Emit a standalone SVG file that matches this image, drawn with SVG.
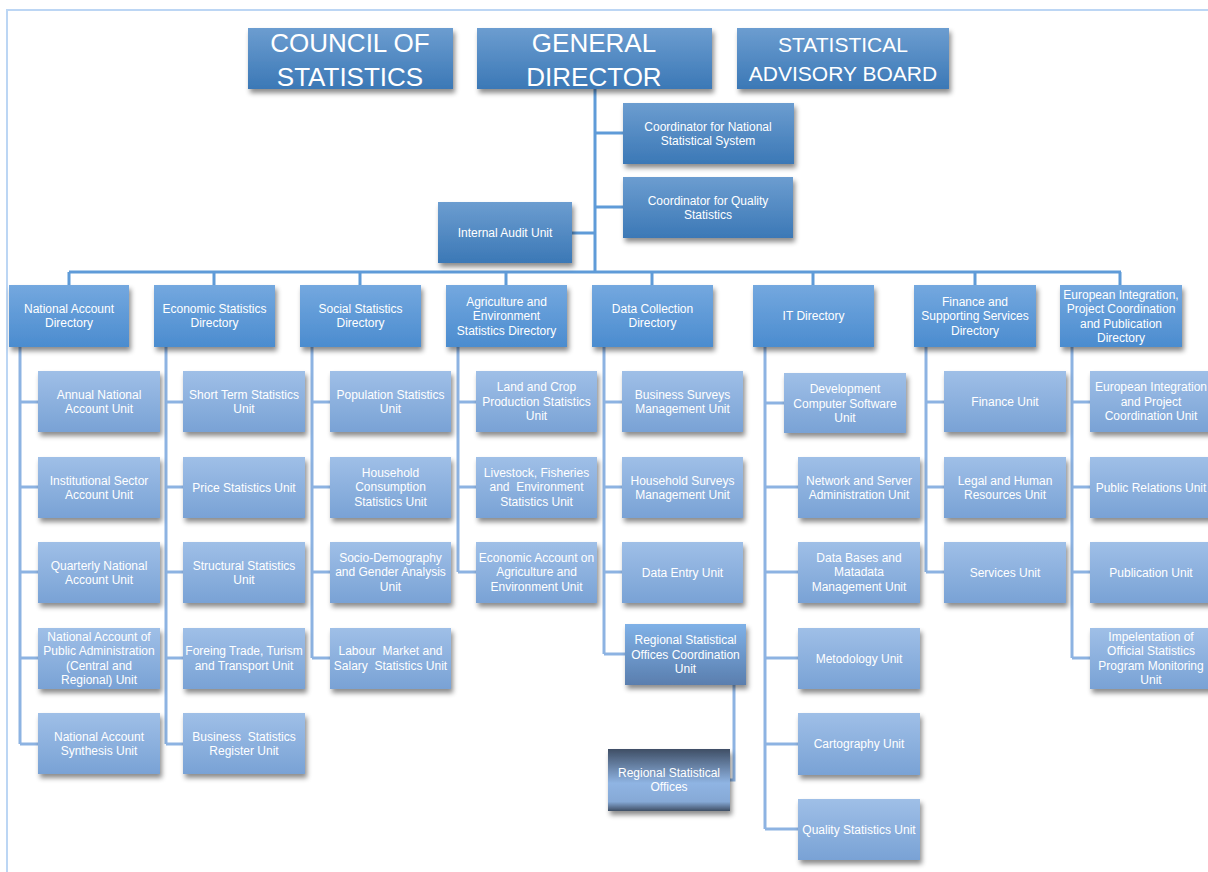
<svg xmlns="http://www.w3.org/2000/svg" width="1208" height="872" viewBox="0 0 1208 872">
<defs>
<linearGradient id="gTop" x1="0" y1="0" x2="0" y2="1"><stop offset="0" stop-color="#6c9dd0"/><stop offset="1" stop-color="#3b78b6"/></linearGradient>
<linearGradient id="gDir" x1="0" y1="0" x2="0" y2="1"><stop offset="0" stop-color="#74a8df"/><stop offset="1" stop-color="#4b8ccf"/></linearGradient>
<linearGradient id="gUnit" x1="0" y1="0" x2="0" y2="1"><stop offset="0" stop-color="#9fbfe7"/><stop offset="1" stop-color="#79a2d5"/></linearGradient>
<linearGradient id="gReg" x1="0" y1="0" x2="0" y2="1"><stop offset="0" stop-color="#7fb1e7"/><stop offset="1" stop-color="#5a7eae"/></linearGradient>
<linearGradient id="gOff" x1="0" y1="0" x2="0" y2="1"><stop offset="0" stop-color="#3f4e65"/><stop offset="0.55" stop-color="#8fb4e3"/><stop offset="0.85" stop-color="#86a9d6"/><stop offset="1" stop-color="#3f4e65"/></linearGradient>
<filter id="sh" x="-10%" y="-10%" width="130%" height="140%"><feDropShadow dx="2" dy="4" stdDeviation="2.5" flood-color="#000" flood-opacity="0.45"/></filter>
</defs>
<style>
.top{fill:url(#gTop);filter:url(#sh)}
.dir{fill:url(#gDir);filter:url(#sh)}
.unit{fill:url(#gUnit);filter:url(#sh)}
.reg{fill:url(#gReg);filter:url(#sh)}
.off{fill:url(#gOff);filter:url(#sh)}
text{font-family:"Liberation Sans",Arial,sans-serif;font-size:12px;fill:#fff;text-anchor:middle;white-space:pre}
.big{font-size:26px}
.mid{font-size:21px}
.bus{fill:none;stroke:#5f9bd8;stroke-width:3}
.stem{fill:none;stroke:#8db3e2;stroke-width:3}
.border{fill:none;stroke:#bcd6f4;stroke-width:2}
</style>
<rect width="1208" height="872" fill="#fff"/>
<path class="border" d="M7 872V10H1208"/>
<g id="connectors">
<path class="bus" d="M595 89V272M595 133H623M595 207H623M572 233H595M69 272H1121M69 272V285M214 272V285M360 272V285M506 272V285M652 272V285M813 272V285M975 272V285M1120 272V285"/>
<path class="stem" d="M20 347V744M20 402H38M20 487H38M20 572H38M20 658H38M20 744H38"/>
<path class="stem" d="M166 347V744M166 402H183M166 487H183M166 572H183M166 658H183M166 744H183"/>
<path class="stem" d="M312 347V658M312 402H330M312 487H330M312 572H330M312 658H330"/>
<path class="stem" d="M458 347V572M458 402H476M458 487H476M458 572H476"/>
<path class="stem" d="M604 347V654M604 402H622M604 487H622M604 572H622M604 654H625M734 685V780H730"/>
<path class="stem" d="M765 347V829M765 403H784M765 487H798M765 572H798M765 658H798M765 744H798M765 829H798"/>
<path class="stem" d="M926 347V572M926 402H944M926 487H944M926 572H944"/>
<path class="stem" d="M1072 347V658M1072 402H1090M1072 487H1090M1072 572H1090M1072 658H1090"/>
</g>
<g id="council"><rect class="top" x="248" y="28" width="205" height="61"/><text class="big" x="350" y="52">COUNCIL OF</text><text class="big" x="350" y="86">STATISTICS</text></g>
<g id="general-director"><rect class="top" x="477" y="28" width="235" height="61"/><text class="big" x="594" y="52">GENERAL</text><text class="big" x="594" y="86">DIRECTOR</text></g>
<g id="advisory-board"><rect class="top" x="737" y="28" width="212" height="61"/><text class="mid" x="843" y="52">STATISTICAL</text><text class="mid" x="843" y="81">ADVISORY BOARD</text></g>
<g id="coord-nss"><rect class="top" x="623" y="103" width="171" height="61"/><text x="708" y="130.5">Coordinator for National</text><text x="708" y="145">Statistical System</text></g>
<g id="coord-quality"><rect class="top" x="623" y="177" width="170" height="61"/><text x="708" y="204.5">Coordinator for Quality</text><text x="708" y="219">Statistics</text></g>
<g id="internal-audit"><rect class="top" x="438" y="202" width="134" height="61"/><text x="505" y="237">Internal Audit Unit</text></g>

<g id="dir-national-account"><rect class="dir" x="9" y="285" width="120" height="62"/><text x="69" y="312.5">National Account</text><text x="69" y="327">Directory</text></g>
<g id="dir-economic"><rect class="dir" x="154" y="285" width="121" height="62"/><text x="214.5" y="312.5">Economic Statistics</text><text x="214.5" y="327">Directory</text></g>
<g id="dir-social"><rect class="dir" x="300" y="285" width="121" height="62"/><text x="360.5" y="312.5">Social Statistics</text><text x="360.5" y="327">Directory</text></g>
<g id="dir-agriculture"><rect class="dir" x="446" y="285" width="121" height="62"/><text x="506.5" y="305.5">Agriculture and</text><text x="506.5" y="320">Environment</text><text x="506.5" y="334.5">Statistics Directory</text></g>
<g id="dir-data-collection"><rect class="dir" x="592" y="285" width="121" height="62"/><text x="652.5" y="312.5">Data Collection</text><text x="652.5" y="327">Directory</text></g>
<g id="dir-it"><rect class="dir" x="753" y="285" width="121" height="62"/><text x="813.5" y="320">IT Directory</text></g>
<g id="dir-finance"><rect class="dir" x="914" y="285" width="122" height="62"/><text x="975" y="305.5">Finance and</text><text x="975" y="320">Supporting Services</text><text x="975" y="334.5">Directory</text></g>
<g id="dir-european"><rect class="dir" x="1060" y="285" width="122" height="62"/><text x="1121" y="298.5">European Integration,</text><text x="1121" y="313">Project Coordination</text><text x="1121" y="327.5">and Publication</text><text x="1121" y="342">Directory</text></g>

<g id="u-annual-na"><rect class="unit" x="38" y="371" width="122" height="61"/><text x="99" y="398.5">Annual National</text><text x="99" y="413">Account Unit</text></g>
<g id="u-institutional"><rect class="unit" x="38" y="457" width="122" height="61"/><text x="99" y="484.5">Institutional Sector</text><text x="99" y="499">Account Unit</text></g>
<g id="u-quarterly"><rect class="unit" x="38" y="542" width="122" height="61"/><text x="99" y="569.5">Quarterly National</text><text x="99" y="584">Account Unit</text></g>
<g id="u-public-admin"><rect class="unit" x="38" y="628" width="122" height="61"/><text x="99" y="640.5">National Account of</text><text x="99" y="655">Public Administration</text><text x="99" y="669.5">(Central and</text><text x="99" y="684">Regional) Unit</text></g>
<g id="u-synthesis"><rect class="unit" x="38" y="713" width="122" height="61"/><text x="99" y="740.5">National Account</text><text x="99" y="755">Synthesis Unit</text></g>

<g id="u-short-term"><rect class="unit" x="183" y="371" width="122" height="61"/><text x="244" y="398.5">Short Term Statistics</text><text x="244" y="413">Unit</text></g>
<g id="u-price"><rect class="unit" x="183" y="457" width="122" height="61"/><text x="244" y="491.5">Price Statistics Unit</text></g>
<g id="u-structural"><rect class="unit" x="183" y="542" width="122" height="61"/><text x="244" y="569.5">Structural Statistics</text><text x="244" y="584">Unit</text></g>
<g id="u-foreign-trade"><rect class="unit" x="183" y="628" width="122" height="61"/><text x="244" y="655">Foreing Trade, Turism</text><text x="244" y="669.5">and Transport Unit</text></g>
<g id="u-business-register"><rect class="unit" x="183" y="713" width="122" height="61"/><text x="244" y="740.5">Business  Statistics</text><text x="244" y="755">Register Unit</text></g>

<g id="u-population"><rect class="unit" x="330" y="371" width="121" height="61"/><text x="390.5" y="398.5">Population Statistics</text><text x="390.5" y="413">Unit</text></g>
<g id="u-household-consumption"><rect class="unit" x="330" y="457" width="121" height="61"/><text x="390.5" y="476.5">Household</text><text x="390.5" y="491">Consumption</text><text x="390.5" y="505.5">Statistics Unit</text></g>
<g id="u-socio-demography"><rect class="unit" x="330" y="542" width="121" height="61"/><text x="390.5" y="561.5">Socio-Demography</text><text x="390.5" y="576">and Gender Analysis</text><text x="390.5" y="590.5">Unit</text></g>
<g id="u-labour"><rect class="unit" x="330" y="628" width="121" height="61"/><text x="390.5" y="655">Labour  Market and</text><text x="390.5" y="669.5">Salary  Statistics Unit</text></g>

<g id="u-land-crop"><rect class="unit" x="476" y="371" width="121" height="61"/><text x="536.5" y="391">Land and Crop</text><text x="536.5" y="405.5">Production Statistics</text><text x="536.5" y="420">Unit</text></g>
<g id="u-livestock"><rect class="unit" x="476" y="457" width="121" height="61"/><text x="536.5" y="476.5">Livestock, Fisheries</text><text x="536.5" y="491">and  Environment</text><text x="536.5" y="505.5">Statistics Unit</text></g>
<g id="u-economic-account"><rect class="unit" x="476" y="542" width="121" height="61"/><text x="536.5" y="561.5">Economic Account on</text><text x="536.5" y="576">Agriculture and</text><text x="536.5" y="590.5">Environment Unit</text></g>

<g id="u-business-surveys"><rect class="unit" x="622" y="371" width="121" height="61"/><text x="682.5" y="398.5">Business Surveys</text><text x="682.5" y="413">Management Unit</text></g>
<g id="u-household-surveys"><rect class="unit" x="622" y="457" width="121" height="61"/><text x="682.5" y="484.5">Household Surveys</text><text x="682.5" y="499">Management Unit</text></g>
<g id="u-data-entry"><rect class="unit" x="622" y="542" width="121" height="61"/><text x="682.5" y="576.5">Data Entry Unit</text></g>
<g id="u-regional-coord"><rect class="reg" x="625" y="624" width="121" height="61"/><text x="685.5" y="644">Regional Statistical</text><text x="685.5" y="658.5">Offices Coordination</text><text x="685.5" y="673">Unit</text></g>
<g id="regional-offices"><rect class="off" x="608" y="749" width="122" height="62"/><text x="669" y="776.5">Regional Statistical</text><text x="669" y="791">Offices</text></g>

<g id="u-dev-software"><rect class="unit" x="784" y="373" width="122" height="60"/><text x="845" y="393">Development</text><text x="845" y="407.5">Computer Software</text><text x="845" y="422">Unit</text></g>
<g id="u-network"><rect class="unit" x="798" y="457" width="122" height="61"/><text x="859" y="484.5">Network and Server</text><text x="859" y="499">Administration Unit</text></g>
<g id="u-databases"><rect class="unit" x="798" y="542" width="122" height="61"/><text x="859" y="561.5">Data Bases and</text><text x="859" y="576">Matadata</text><text x="859" y="590.5">Management Unit</text></g>
<g id="u-metodology"><rect class="unit" x="798" y="628" width="122" height="61"/><text x="859" y="662.5">Metodology Unit</text></g>
<g id="u-cartography"><rect class="unit" x="798" y="713" width="122" height="62"/><text x="859" y="748">Cartography Unit</text></g>
<g id="u-quality"><rect class="unit" x="798" y="799" width="122" height="61"/><text x="859" y="833.5">Quality Statistics Unit</text></g>

<g id="u-finance"><rect class="unit" x="944" y="371" width="122" height="61"/><text x="1005" y="405.5">Finance Unit</text></g>
<g id="u-legal"><rect class="unit" x="944" y="457" width="122" height="61"/><text x="1005" y="484.5">Legal and Human</text><text x="1005" y="499">Resources Unit</text></g>
<g id="u-services"><rect class="unit" x="944" y="542" width="122" height="61"/><text x="1005" y="576.5">Services Unit</text></g>

<g id="u-eu-integration"><rect class="unit" x="1090" y="371" width="122" height="61"/><text x="1151" y="391">European Integration</text><text x="1151" y="405.5">and Project</text><text x="1151" y="420">Coordination Unit</text></g>
<g id="u-public-relations"><rect class="unit" x="1090" y="457" width="122" height="61"/><text x="1151" y="491.5">Public Relations Unit</text></g>
<g id="u-publication"><rect class="unit" x="1090" y="542" width="122" height="61"/><text x="1151" y="576.5">Publication Unit</text></g>
<g id="u-implementation"><rect class="unit" x="1090" y="628" width="122" height="61"/><text x="1151" y="640.5">Impelentation of</text><text x="1151" y="655">Official Statistics</text><text x="1151" y="669.5">Program Monitoring</text><text x="1151" y="684">Unit</text></g>
</svg>
